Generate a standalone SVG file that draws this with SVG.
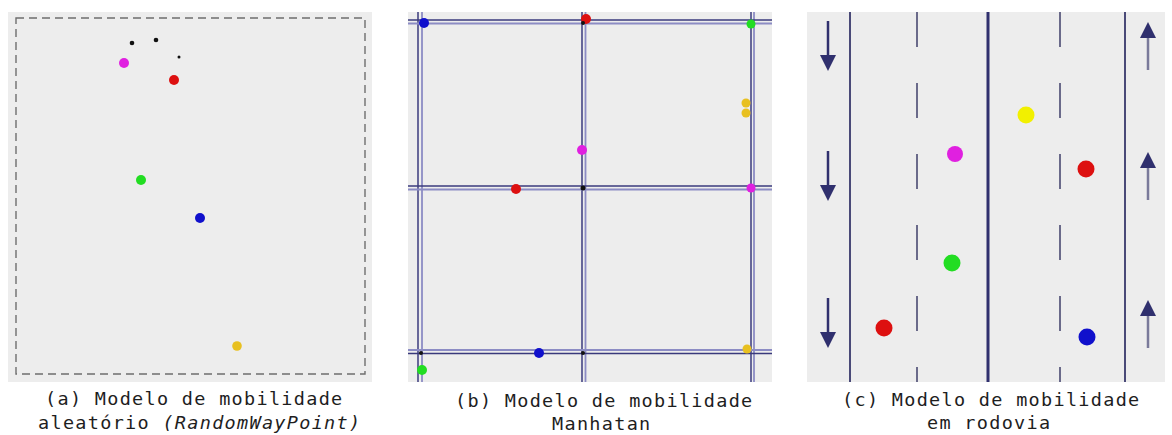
<svg xmlns="http://www.w3.org/2000/svg" width="1172" height="435" viewBox="0 0 1172 435">
<style>
.bg{fill:#ededed}
.cap{font-family:"DejaVu Sans Mono","Liberation Mono",monospace;font-size:18.5px;letter-spacing:1.3px;fill:#1e1e1e}
.it{font-style:italic}
.rd{stroke:#3a3a7c;stroke-width:1.5;fill:none}
.rl{stroke:#8c8cc4;stroke-width:1.8;fill:none}
.lane{stroke:#4a4a78;stroke-width:2;fill:none}
.mid{stroke:#30306e;stroke-width:3;fill:none}
.dash{stroke:#6a6a8a;stroke-width:2;stroke-dasharray:35 36;fill:none}
.mg{fill:#e020e0}.rdd{fill:#dd1010}.gr{fill:#22dd22}.bl{fill:#1010cc}.yl{fill:#e8c020}.bk{fill:#111}.yy{fill:#f2f000}
.ah{fill:#30306e}
</style>
<rect width="1172" height="435" fill="#ffffff"/>

<g id="panel-a">
<rect class="bg" x="8" y="12" width="364" height="370"/>
<rect x="16" y="18" width="349" height="356" fill="none" stroke="#6e6e6e" stroke-width="1.4" stroke-dasharray="8 5"/>
<circle class="bk" cx="132" cy="43" r="2.3"/>
<circle class="bk" cx="156" cy="40" r="2.3"/>
<circle class="bk" cx="179" cy="57" r="1.5"/>
<circle class="mg" cx="124" cy="63" r="5"/>
<circle class="rdd" cx="174" cy="80" r="5"/>
<circle class="gr" cx="141" cy="180" r="5"/>
<circle class="bl" cx="200" cy="218" r="5"/>
<circle class="yl" cx="237" cy="346" r="4.8"/>
<text class="cap" x="45" y="405">(a) Modelo de mobilidade</text>
<text class="cap" x="38" y="429">aleatório <tspan class="it">(RandomWayPoint)</tspan></text>
</g>

<g id="panel-b">
<rect class="bg" x="408" y="12" width="364" height="370"/>
<g id="roads">
<line class="rd" x1="418" y1="12" x2="418" y2="382"/><line class="rl" x1="422" y1="12" x2="422" y2="382"/>
<line class="rd" x1="582" y1="12" x2="582" y2="382"/><line class="rl" x1="585.5" y1="12" x2="585.5" y2="382"/>
<line class="rd" x1="751" y1="12" x2="751" y2="382"/><line class="rl" x1="754" y1="12" x2="754" y2="382"/>
<line class="rd" x1="408" y1="20" x2="772" y2="20"/><line class="rl" x1="408" y1="23.5" x2="772" y2="23.5"/>
<line class="rd" x1="408" y1="186" x2="772" y2="186"/><line class="rl" x1="408" y1="189.5" x2="772" y2="189.5"/>
<line class="rl" x1="408" y1="350" x2="772" y2="350"/><line class="rd" x1="408" y1="353.5" x2="772" y2="353.5"/>
</g>
<circle class="bl" cx="424" cy="23" r="5"/>
<circle class="rdd" cx="586" cy="19" r="5"/>
<circle class="bk" cx="583" cy="23" r="2"/>
<circle class="gr" cx="751" cy="24" r="4.5"/>
<circle class="yl" cx="746" cy="103" r="4.5"/>
<circle class="yl" cx="746" cy="113" r="4.5"/>
<circle class="mg" cx="582" cy="150" r="5"/>
<circle class="rdd" cx="516" cy="189" r="5"/>
<circle class="bk" cx="583" cy="188" r="2.5"/>
<circle class="mg" cx="751" cy="188" r="4.5"/>
<circle class="bk" cx="421" cy="353" r="2"/>
<circle class="bl" cx="539" cy="353" r="5"/>
<circle class="bk" cx="583" cy="353" r="2"/>
<circle class="yl" cx="747" cy="349" r="4.5"/>
<circle class="gr" cx="422" cy="370" r="5"/>
<text class="cap" x="455" y="407">(b) Modelo de mobilidade</text>
<text class="cap" x="552" y="430">Manhatan</text>
</g>

<g id="panel-c">
<rect class="bg" x="807" y="12" width="358" height="370"/>
<line class="lane" x1="850" y1="12" x2="850" y2="382"/>
<line class="mid" x1="988" y1="12" x2="988" y2="382"/>
<line class="lane" x1="1125" y1="12" x2="1125" y2="382"/>
<line class="dash" x1="917" y1="12" x2="917" y2="382"/>
<line class="dash" x1="1060" y1="12" x2="1060" y2="382"/>
<g id="arrows-down">
<line x1="828" y1="21" x2="828" y2="58" stroke="#30306e" stroke-width="2.5"/><polygon class="ah" points="820,55 836,55 828,71"/>
<line x1="828" y1="151" x2="828" y2="188" stroke="#30306e" stroke-width="2.5"/><polygon class="ah" points="820,185 836,185 828,201"/>
<line x1="828" y1="298" x2="828" y2="335" stroke="#30306e" stroke-width="2.5"/><polygon class="ah" points="820,332 836,332 828,348"/>
</g>
<g id="arrows-up">
<line x1="1148" y1="36" x2="1148" y2="70" stroke="#7a7a9a" stroke-width="2.5"/><polygon class="ah" points="1148,22 1140,38 1156,38"/>
<line x1="1148" y1="166" x2="1148" y2="200" stroke="#7a7a9a" stroke-width="2.5"/><polygon class="ah" points="1148,152 1140,168 1156,168"/>
<line x1="1148" y1="314" x2="1148" y2="348" stroke="#7a7a9a" stroke-width="2.5"/><polygon class="ah" points="1148,300 1140,316 1156,316"/>
</g>
<circle class="mg" cx="955" cy="154" r="8"/>
<circle class="yy" cx="1026" cy="115" r="8.5"/>
<circle class="rdd" cx="1086" cy="169" r="8.5"/>
<circle class="gr" cx="952" cy="263" r="8.5"/>
<circle class="rdd" cx="884" cy="328" r="8.5"/>
<circle class="bl" cx="1087" cy="337" r="8.5"/>
<text class="cap" x="842" y="406">(c) Modelo de mobilidade</text>
<text class="cap" x="927" y="429">em rodovia</text>
</g>
</svg>
